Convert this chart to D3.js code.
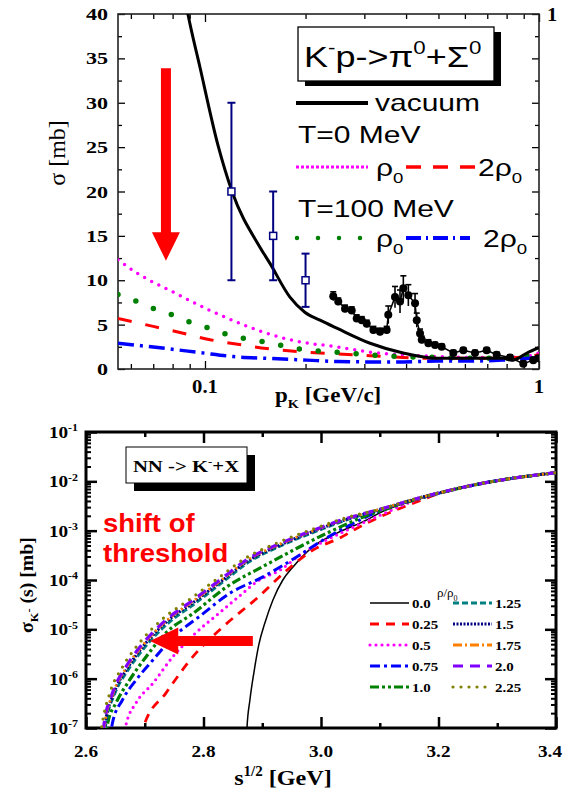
<!DOCTYPE html>
<html>
<head>
<meta charset="utf-8">
<script src="https://cdn.jsdelivr.net/npm/d3@7"></script>
<style>body{margin:0;background:#fff}</style>
</head>
<body>
<script>
// ---------- top panel data: K- p -> pi0 + Sigma0, sigma [mb] vs p_K [GeV/c] ----------
const vacuum = [[0.085,44],[0.0889,40],[0.0966,34],[0.1094,25.2],[0.1205,20],[0.1462,13.7],[0.1565,11.9],
  [0.1796,8.1],[0.199,6.4],[0.221,5.5],[0.248,4.6],[0.312,2.9],[0.392,1.8],[0.495,1.2],[0.62,1.2],[0.78,1.2],
  [0.835,1.0],[0.92,1.8],[1.0,2.4]];
const t0Rho0 = [[0.0549,12.3],[0.062,10.9],[0.080,8.7],[0.1035,6.6],[0.130,5.0],[0.160,3.8],[0.190,3.1],
  [0.248,2.5],[0.312,1.9],[0.392,1.6],[0.495,1.4],[0.62,1.3],[0.78,1.3],[0.9,1.4],[1.0,1.8]];
const t0Rho2 = [[0.0549,5.7],[0.070,4.8],[0.0823,4.2],[0.1035,3.3],[0.130,2.7],[0.153,2.3],[0.1925,1.95],
  [0.248,1.7],[0.312,1.5],[0.392,1.3],[0.495,1.2],[0.62,1.2],[0.78,1.2],[1.0,1.6]];
const t100Rho0 = [[0.0549,8.4],[0.0627,7.6],[0.0714,6.7],[0.0813,6.0],[0.0929,5.1],[0.1054,4.5],[0.121,3.7],
  [0.138,3.3],[0.1594,2.9],[0.1818,2.4],[0.2087,2.1],[0.248,1.9],[0.312,1.6],[0.392,1.4],[0.495,1.3],
  [0.62,1.2],[0.78,1.2],[1.0,1.7]];
const t100Rho2 = [[0.0549,2.9],[0.0653,2.6],[0.0768,2.3],[0.0966,1.85],[0.1216,1.4],[0.153,1.2],[0.2017,1.0],
  [0.248,0.85],[0.312,0.8],[0.392,0.8],[0.495,0.9],[0.62,0.9],[0.78,1.0],[1.0,1.3]];

// open squares with error bars
const sqP = [0.12, 0.16, 0.2];
const sqSig = [20, 15, 10];
const sqLo = [10, 10, 7];
const sqHi = [30, 20, 13];

// measured data (black dots)
const expP = [0.2421,0.2506,0.2626,0.2750,0.2846,0.2947,0.3050,0.3193,0.3342,0.3499,0.3538,0.3706,0.3836,
  0.3925,0.4063,0.4255,0.4305,0.4404,0.4456,0.4664,0.4884,0.5113,0.5540,0.5935,0.6432,0.6972,0.7471,
  0.8190,0.8974,0.9614,0.9952];
const expSig = [8.2,7.6,6.8,6.6,5.7,5.5,5.1,4.4,4.2,4.4,6.1,8.1,7.6,9.1,8.3,7.4,5.5,4.0,3.3,2.9,2.7,2.5,
  1.8,2.1,1.8,2.1,1.6,1.3,0.6,1.0,1.2];
const expErr = [0.5,0.4,0.4,0.4,0.4,0.4,0.4,0.4,0.4,0.4,1.0,1.2,1.3,1.4,1.2,1.1,0.8,0.5,0.4,0.4,0.3,0.3,
  0.3,0.3,0.3,0.3,0.3,0.3,0.3,0.3,0.3];

const topYMajor = [0,5,10,15,20,25,30,35,40];
const topYMinor = [2.5,7.5,12.5,17.5,22.5,27.5,32.5,37.5];
const topXMajor = [0.1, 1];
const topXMinor = [0.06,0.07,0.08,0.09,0.2,0.3,0.4,0.5,0.6,0.7,0.8,0.9];

// ---------- bottom panel data: NN -> K- + X, sigma [mb] vs sqrt(s) [GeV] ----------
const rhoLabels = ["0.0","0.25","0.5","0.75","1.0","1.25","1.5","1.75","2.0","2.25"];
const s000 = [[2.872,3e-8],[2.874,1e-7],[2.879,3.7e-7],[2.886,1.38e-6],[2.894,4.8e-6],[2.905,1.41e-5],
  [2.918,3.9e-5],[2.935,1.0e-4],[2.952,1.82e-4],[2.986,4.7e-4],[3.027,8.9e-4],[3.078,1.66e-3],[3.100,2.3e-3],
  [3.17,4.5e-3],[3.2,5.7e-3],[3.27,8.9e-3],[3.33,1.17e-2],[3.4,1.5e-2]];
const s025 = [[2.690,3e-8],[2.699,1.15e-7],[2.736,5.1e-7],[2.782,2.8e-6],[2.833,1.12e-5],[2.894,4.6e-5],
  [2.942,1.58e-4],[2.987,4.1e-4],[3.032,7.1e-4],[3.066,1.2e-3],[3.095,1.78e-3],[3.157,3.6e-3],[3.2,5.6e-3],
  [3.27,8.9e-3],[3.33,1.17e-2],[3.4,1.5e-2]];
const s050 = [[2.662,4e-8],[2.668,1.15e-7],[2.685,3.2e-7],[2.714,8.1e-7],[2.748,2.8e-6],[2.787,8.5e-6],
  [2.826,2.1e-5],[2.860,4.6e-5],[2.895,1.0e-4],[2.930,1.58e-4],[2.964,3.2e-4],[3.004,6.0e-4],[3.044,1.02e-3],
  [3.089,1.78e-3],[3.17,4.5e-3],[3.2,5.7e-3],[3.27,8.9e-3],[3.33,1.17e-2],[3.4,1.5e-2]];
const s075 = [[2.640,4e-8],[2.645,1.26e-7],[2.662,3.7e-7],[2.685,9.3e-7],[2.714,2.4e-6],[2.748,6.9e-6],
  [2.792,1.78e-5],[2.845,5.4e-5],[2.902,1.17e-4],[2.959,2.95e-4],[3.004,6.5e-4],[3.055,1.41e-3],[3.1,2.5e-3],
  [3.17,4.6e-3],[3.2,5.7e-3],[3.27,8.9e-3],[3.33,1.17e-2],[3.4,1.5e-2]];
const s100 = [[2.632,4e-8],[2.637,1.26e-7],[2.651,3.2e-7],[2.674,9.3e-7],[2.702,2.75e-6],[2.736,8.5e-6],
  [2.782,2.1e-5],[2.842,7.6e-5],[2.902,1.9e-4],[2.959,4.4e-4],[3.015,9.5e-4],[3.072,1.9e-3],[3.12,3.0e-3],
  [3.17,4.6e-3],[3.2,5.7e-3],[3.27,8.9e-3],[3.33,1.17e-2],[3.4,1.5e-2]];
const s125 = [[2.629,4e-8],[2.634,1.26e-7],[2.648,4.6e-7],[2.671,1.45e-6],[2.700,4.3e-6],[2.739,1.3e-5],
  [2.785,3.3e-5],[2.831,8.7e-5],[2.877,2.3e-4],[2.933,5.0e-4],[2.990,9.5e-4],[3.047,1.7e-3],[3.1,2.65e-3],
  [3.17,4.7e-3],[3.2,5.8e-3],[3.27,8.9e-3],[3.33,1.17e-2],[3.4,1.5e-2]];
const s150 = [[2.628,4e-8],[2.633,1.26e-7],[2.647,4.9e-7],[2.670,1.6e-6],[2.699,4.8e-6],[2.738,1.45e-5],
  [2.784,3.6e-5],[2.830,9.4e-5],[2.876,2.45e-4],[2.932,5.2e-4],[2.989,9.9e-4],[3.046,1.74e-3],[3.1,2.68e-3],
  [3.17,4.7e-3],[3.2,5.8e-3],[3.27,8.9e-3],[3.33,1.17e-2],[3.4,1.5e-2]];
const s175 = [[2.627,4e-8],[2.632,1.26e-7],[2.646,5.0e-7],[2.669,1.7e-6],[2.698,5.0e-6],[2.737,1.5e-5],
  [2.783,3.8e-5],[2.829,9.7e-5],[2.875,2.55e-4],[2.931,5.4e-4],[2.988,1.01e-3],[3.045,1.76e-3],[3.1,2.7e-3],
  [3.17,4.7e-3],[3.2,5.8e-3],[3.27,8.9e-3],[3.33,1.17e-2],[3.4,1.5e-2]];
const s200 = [[2.626,4e-8],[2.631,1.26e-7],[2.645,5.1e-7],[2.668,1.74e-6],[2.697,5.2e-6],[2.736,1.55e-5],
  [2.782,3.9e-5],[2.828,1.0e-4],[2.874,2.6e-4],[2.930,5.5e-4],[2.987,1.02e-3],[3.044,1.78e-3],[3.1,2.7e-3],
  [3.17,4.7e-3],[3.2,5.8e-3],[3.27,8.9e-3],[3.33,1.17e-2],[3.4,1.5e-2]];
const s225 = [[2.623,5e-8],[2.628,1.3e-7],[2.641,5.3e-7],[2.663,1.8e-6],[2.692,5.5e-6],[2.731,1.65e-5],
  [2.777,4.1e-5],[2.823,1.05e-4],[2.870,2.7e-4],[2.926,5.7e-4],[2.984,1.05e-3],[3.042,1.82e-3],[3.1,2.72e-3],
  [3.17,4.72e-3],[3.2,5.8e-3],[3.27,8.9e-3],[3.33,1.17e-2],[3.4,1.5e-2]];

const botXMajor = [2.6,2.8,3.0,3.2,3.4];
const botXMinor = [2.7,2.9,3.1,3.3];
const botYMajor = [1e-7,1e-6,1e-5,1e-4,1e-3,1e-2,1e-1];

// ---------- setup ----------
const serif = "'Liberation Serif','DejaVu Serif',serif";
const sans = "'Liberation Sans',Arial,sans-serif";

const svg = d3.select("body").append("svg")
  .attr("width", 566).attr("height", 791)
  .style("background", "#fff");

// text with sup/sub parts, horizontally stretched like the scanned figure
function rich(parent, x, y, parts, o) {
  let tr = "translate(" + x + "," + y + ")";
  if (o.rotate) tr += " rotate(" + o.rotate + ")";
  tr += " scale(" + (o.sx || 1) + ",1)";
  const t = parent.append("text")
    .attr("transform", tr)
    .attr("font-family", o.family)
    .attr("font-size", o.size)
    .attr("font-weight", o.weight || "normal")
    .attr("text-anchor", o.anchor || "start")
    .attr("fill", o.fill || "#000");
  let shift = 0;
  parts.forEach(function (p) {
    const str = typeof p === "string" ? p : p[0];
    const kind = typeof p === "string" ? null : p[1];
    let target = 0;
    if (kind === "sup") target = -0.42 * o.size;
    if (kind === "sub") target = 0.28 * o.size;
    if (kind === "ss") target = -0.05 * o.size;
    const sp = t.append("tspan").text(str).attr("dy", target - shift);
    if (kind) sp.attr("font-size", o.size * 0.62);
    shift = target;
  });
  return t;
}

// ================= TOP PANEL =================
const xT = d3.scaleLog().domain([0.0549, 1]).range([118, 539]);
const yT = d3.scaleLinear().domain([0, 40]).range([369, 14]);

const gT = svg.append("g");
svg.append("clipPath").attr("id", "clipT").append("rect")
  .attr("x", 118).attr("y", 14).attr("width", 421).attr("height", 355);

// ticks (inward)
function ticks(g, axis, tr, w) {
  const a = g.append("g").attr("transform", tr).call(axis);
  a.select(".domain").remove();
  a.selectAll("line").attr("stroke", "#000").attr("stroke-width", w);
  a.selectAll("text").remove();
}
ticks(gT, d3.axisLeft(yT).tickValues(topYMajor).tickSize(-7), "translate(118,0)", 1.3);
ticks(gT, d3.axisLeft(yT).tickValues(topYMinor).tickSize(-4), "translate(118,0)", 1.3);
ticks(gT, d3.axisRight(yT).tickValues(topYMajor).tickSize(-7), "translate(539,0)", 1.3);
ticks(gT, d3.axisRight(yT).tickValues(topYMinor).tickSize(-4), "translate(539,0)", 1.3);
ticks(gT, d3.axisBottom(xT).tickValues(topXMajor).tickSize(-8), "translate(0,369)", 1.3);
ticks(gT, d3.axisBottom(xT).tickValues(topXMinor).tickSize(-5), "translate(0,369)", 1.3);
ticks(gT, d3.axisTop(xT).tickValues(topXMajor).tickSize(-8), "translate(0,14)", 1.3);
ticks(gT, d3.axisTop(xT).tickValues(topXMinor).tickSize(-5), "translate(0,14)", 1.3);

gT.append("rect").attr("x", 118).attr("y", 14).attr("width", 421).attr("height", 355)
  .attr("fill", "none").attr("stroke", "#222").attr("stroke-width", 1.6);

// tick labels
topYMajor.forEach(function (v) {
  rich(gT, 108, yT(v) + 6, [String(v)], {family: serif, size: 17, weight: "bold", anchor: "end", sx: 1.3});
});
rich(gT, xT(0.1), 393, ["0.1"], {family: serif, size: 18, weight: "bold", anchor: "middle", sx: 1.15});
rich(gT, xT(1), 393, ["1"], {family: serif, size: 18, weight: "bold", anchor: "middle", sx: 1.15});
rich(gT, 547, 21, ["1"], {family: serif, size: 18, weight: "bold", anchor: "start", sx: 1.15});

// axis titles
rich(gT, 65, 153, ["σ [mb]"], {family: serif, size: 24, anchor: "middle", rotate: -90});
rich(gT, 275, 402, ["p", ["K", "sub"], " [GeV/c]"], {family: serif, size: 20, weight: "bold", sx: 1.15});

const lineT = d3.line().x(d => xT(d[0])).y(d => yT(d[1])).curve(d3.curveMonotoneX);
const plotT = gT.append("g").attr("clip-path", "url(#clipT)");

plotT.append("path").datum(t0Rho0).attr("d", lineT).attr("fill", "none")
  .attr("stroke", "#ff00ff").attr("stroke-width", 3.5).attr("stroke-linecap", "round").attr("stroke-dasharray", "0 8");
plotT.append("path").datum(t0Rho2).attr("d", lineT).attr("fill", "none")
  .attr("stroke", "#ff0000").attr("stroke-width", 3).attr("stroke-dasharray", "14 14");
plotT.append("path").datum(t100Rho0).attr("d", lineT).attr("fill", "none")
  .attr("stroke", "#008000").attr("stroke-width", 5.5).attr("stroke-linecap", "round").attr("stroke-dasharray", "0 19");
plotT.append("path").datum(t100Rho2).attr("d", lineT).attr("fill", "none")
  .attr("stroke", "#0000ff").attr("stroke-width", 3.5).attr("stroke-dasharray", "16 6 3 6");
plotT.append("path").datum(vacuum).attr("d", lineT).attr("fill", "none")
  .attr("stroke", "#000").attr("stroke-width", 3);

// measured data
const expPts = expP.map((p, i) => [p, expSig[i], expErr[i]]);
plotT.append("path").datum(expPts).attr("d", d3.line().x(d => xT(d[0])).y(d => yT(d[1])))
  .attr("fill", "none").attr("stroke", "#000").attr("stroke-width", 1.5);
plotT.selectAll(".eb").data(expPts).enter().append("line")
  .attr("x1", d => xT(d[0])).attr("x2", d => xT(d[0]))
  .attr("y1", d => yT(d[1] - d[2])).attr("y2", d => yT(d[1] + d[2]))
  .attr("stroke", "#000").attr("stroke-width", 1.6);
plotT.selectAll(".ec").data(expPts).enter().append("line")
  .attr("x1", d => xT(d[0]) - 3).attr("x2", d => xT(d[0]) + 3)
  .attr("y1", d => yT(d[1] + d[2])).attr("y2", d => yT(d[1] + d[2]))
  .attr("stroke", "#000").attr("stroke-width", 1.6);
plotT.selectAll(".ed").data(expPts).enter().append("circle")
  .attr("cx", d => xT(d[0])).attr("cy", d => yT(d[1])).attr("r", 4).attr("fill", "#000");

// open squares with error bars
sqP.forEach(function (p, i) {
  const x = xT(p);
  plotT.append("line").attr("x1", x).attr("x2", x).attr("y1", yT(sqLo[i])).attr("y2", yT(sqHi[i]))
    .attr("stroke", "#000080").attr("stroke-width", 2);
  [sqLo[i], sqHi[i]].forEach(function (v) {
    plotT.append("line").attr("x1", x - 4).attr("x2", x + 4).attr("y1", yT(v)).attr("y2", yT(v))
      .attr("stroke", "#000080").attr("stroke-width", 2);
  });
  plotT.append("rect").attr("x", x - 3.5).attr("y", yT(sqSig[i]) - 3.5).attr("width", 7).attr("height", 7)
    .attr("fill", "#fff").attr("stroke", "#000080").attr("stroke-width", 1.5);
});

// red arrow pointing down
const axT = xT(0.0764);
gT.append("path")
  .attr("d", "M" + (axT - 5) + "," + yT(33.9) + "L" + (axT + 5) + "," + yT(33.9) + "L" + (axT + 5) + "," + yT(15.4) +
    "L" + (axT + 14) + "," + yT(15.4) + "L" + axT + "," + yT(12.2) + "L" + (axT - 14) + "," + yT(15.4) +
    "L" + (axT - 5) + "," + yT(15.4) + "Z")
  .attr("fill", "#ff0000");

// reaction box with shadow
gT.append("rect").attr("x", 305).attr("y", 32).attr("width", 196).attr("height", 54).attr("fill", "#000");
gT.append("rect").attr("x", 298).attr("y", 27).attr("width", 196).attr("height", 54)
  .attr("fill", "#fff").attr("stroke", "#000").attr("stroke-width", 1.3);
rich(gT, 304, 67, ["K", ["-", "sup"], "p->π", ["0", "sup"], "+Σ", ["0", "sup"]], {family: sans, size: 30, sx: 1.2});

// legend
const lg = {family: sans, size: 24, sx: 1.25};
gT.append("line").attr("x1", 296).attr("x2", 368).attr("y1", 103).attr("y2", 103)
  .attr("stroke", "#000").attr("stroke-width", 4);
rich(gT, 375, 111, ["vacuum"], lg);
rich(gT, 298, 143, ["T=0 MeV"], lg);
gT.append("line").attr("x1", 296).attr("x2", 368).attr("y1", 167).attr("y2", 167)
  .attr("stroke", "#ff00ff").attr("stroke-width", 3).attr("stroke-dasharray", "3 2");
rich(gT, 376, 176, ["ρ", ["0", "sub"]], lg);
gT.append("line").attr("x1", 406).attr("x2", 478).attr("y1", 167).attr("y2", 167)
  .attr("stroke", "#ff0000").attr("stroke-width", 3.5).attr("stroke-dasharray", "15 12");
rich(gT, 478, 176, ["2ρ", ["0", "sub"]], lg);
rich(gT, 298, 217, ["T=100 MeV"], lg);
gT.append("line").attr("x1", 297).attr("x2", 368).attr("y1", 238).attr("y2", 238)
  .attr("stroke", "#008000").attr("stroke-width", 4.5).attr("stroke-linecap", "round").attr("stroke-dasharray", "0 21");
rich(gT, 376, 247, ["ρ", ["0", "sub"]], lg);
gT.append("line").attr("x1", 406).attr("x2", 470).attr("y1", 238).attr("y2", 238)
  .attr("stroke", "#0000ff").attr("stroke-width", 4).attr("stroke-dasharray", "15 5 2 5");
rich(gT, 483, 247, ["2ρ", ["0", "sub"]], lg);

// ================= BOTTOM PANEL =================
const xB = d3.scaleLinear().domain([2.6, 3.4]).range([86, 556]);
const yB = d3.scaleLog().domain([1e-7, 1e-1]).range([728, 432]);
const gB = svg.append("g");
svg.append("clipPath").attr("id", "clipB").append("rect")
  .attr("x", 86).attr("y", 432).attr("width", 470).attr("height", 296);

const botYMinor = yB.ticks().filter(v => botYMajor.indexOf(v) < 0);
ticks(gB, d3.axisLeft(yB).tickValues(botYMajor).tickSize(-11), "translate(86,0)", 2.5);
ticks(gB, d3.axisLeft(yB).tickValues(botYMinor).tickSize(-5), "translate(86,0)", 2);
ticks(gB, d3.axisRight(yB).tickValues(botYMajor).tickSize(-11), "translate(556,0)", 2.5);
ticks(gB, d3.axisRight(yB).tickValues(botYMinor).tickSize(-5), "translate(556,0)", 2);
ticks(gB, d3.axisBottom(xB).tickValues(botXMajor).tickSize(-11), "translate(0,728)", 2.5);
ticks(gB, d3.axisBottom(xB).tickValues(botXMinor).tickSize(-5), "translate(0,728)", 2.5);
ticks(gB, d3.axisTop(xB).tickValues(botXMajor).tickSize(-11), "translate(0,432)", 2.5);
ticks(gB, d3.axisTop(xB).tickValues(botXMinor).tickSize(-5), "translate(0,432)", 2.5);

gB.append("rect").attr("x", 86).attr("y", 432).attr("width", 470).attr("height", 296)
  .attr("fill", "none").attr("stroke", "#000").attr("stroke-width", 3);

botYMajor.forEach(function (v) {
  rich(gB, 78, yB(v) + 6, ["10", [String(Math.round(Math.log10(v))), "sup"]],
    {family: serif, size: 16, weight: "bold", anchor: "end", sx: 1.2});
});
botXMajor.forEach(function (v) {
  // last label sits at the page edge, nudge it inside
  const x = v === 3.4 ? xB(v) - 6 : xB(v);
  rich(gB, x, 757, [v.toFixed(1)], {family: serif, size: 16, weight: "bold", anchor: "middle", sx: 1.2});
});
rich(gB, 283, 785, ["s", ["1/2", "sup"], " [GeV]"], {family: serif, size: 22, weight: "bold", anchor: "middle", sx: 1.1});
rich(gB, 33, 585, ["σ", ["K", "sub"], ["-", "ss"], " (s)  [mb]"],
  {family: serif, size: 18, weight: "bold", anchor: "middle", rotate: -90, sx: 1.1});

const styles = [
  {c: "#000000", w: 1.5, d: null},
  {c: "#ff0000", w: 2.8, d: "9 7"},
  {c: "#ff00ff", w: 3.2, d: "0 6", cap: "round"},
  {c: "#0000ff", w: 3, d: "10 4 3 4"},
  {c: "#008000", w: 3.2, d: "9 3 3 3 3 3"},
  {c: "#008080", w: 2.8, d: "6 3"},
  {c: "#000080", w: 3, d: "2 1.5"},
  {c: "#ff8000", w: 2.8, d: "9 3 2 3"},
  {c: "#8000ff", w: 3.2, d: "10 7"},
  {c: "#808000", w: 3.2, d: "0 8", cap: "round"}
];
const series = [s000, s025, s050, s075, s100, s125, s150, s175, s200, s225];

const lineB = d3.line().x(d => xB(d[0])).y(d => yB(d[1])).curve(d3.curveMonotoneX);
const plotB = gB.append("g").attr("clip-path", "url(#clipB)");
series.forEach(function (s, i) {
  const st = styles[i];
  const p = plotB.append("path").datum(s).attr("d", lineB).attr("fill", "none")
    .attr("stroke", st.c).attr("stroke-width", st.w);
  if (st.d) p.attr("stroke-dasharray", st.d);
  if (st.cap) p.attr("stroke-linecap", st.cap);
});

// reaction box
gB.append("rect").attr("x", 134).attr("y", 455).attr("width", 121).attr("height", 36).attr("fill", "#000");
gB.append("rect").attr("x", 126).attr("y", 447).attr("width", 121).attr("height", 36)
  .attr("fill", "#fff").attr("stroke", "#000").attr("stroke-width", 1);
rich(gB, 186, 472, ["NN -> K", ["-", "sup"], "+X"], {family: serif, size: 17, weight: "bold", anchor: "middle", sx: 1.22});

// shift of threshold
rich(gB, 103, 532, ["shift of"], {family: sans, size: 25, weight: "bold", fill: "#ff0000", sx: 1.1});
rich(gB, 103, 562, ["threshold"], {family: sans, size: 25, weight: "bold", fill: "#ff0000", sx: 1.1});

// red arrow pointing left
const ayB = yB(5.8e-6);
gB.append("path")
  .attr("d", "M" + xB(2.884) + "," + (ayB - 5) + "L" + xB(2.757) + "," + (ayB - 5) + "L" + xB(2.757) + "," + (ayB - 13.5) +
    "L" + xB(2.709) + "," + ayB + "L" + xB(2.757) + "," + (ayB + 13.5) + "L" + xB(2.757) + "," + (ayB + 5) +
    "L" + xB(2.884) + "," + (ayB + 5) + "Z")
  .attr("fill", "#ff0000");

// density legend
rich(gB, 437, 597, ["ρ/ρ", ["0", "sub"]], {family: serif, size: 13});
rhoLabels.forEach(function (lab, i) {
  const col = i < 5 ? 0 : 1;
  const row = i % 5;
  const y = 603 + row * 21;
  const x0 = col === 0 ? 370 : 453;
  const st = styles[i];
  const l = gB.append("line").attr("x1", x0).attr("x2", x0 + 39).attr("y1", y).attr("y2", y)
    .attr("stroke", st.c).attr("stroke-width", st.w);
  if (st.d) l.attr("stroke-dasharray", st.d);
  if (st.cap) l.attr("stroke-linecap", st.cap);
  rich(gB, x0 + 42, y + 5, [lab], {family: serif, size: 13, weight: "bold", sx: 1.15});
});
</script>
</body>
</html>
